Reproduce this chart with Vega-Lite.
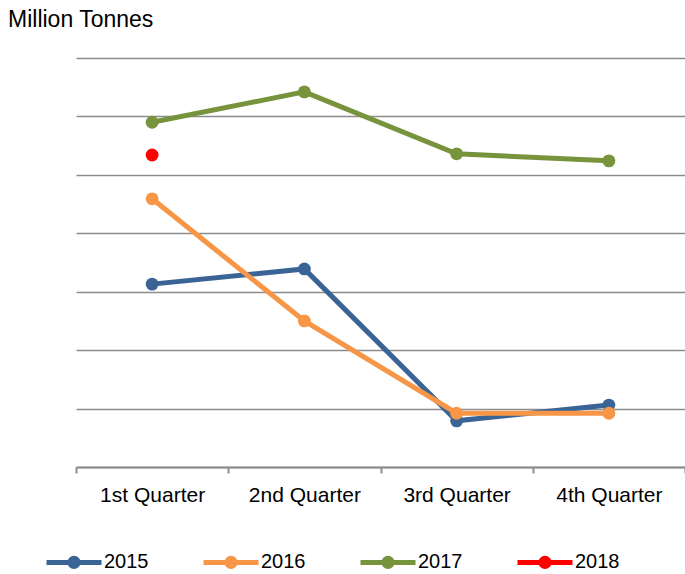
{
  "$schema": "https://vega.github.io/schema/vega-lite/v6.json",
  "autosize": "none",
  "width": 609,
  "height": 409,
  "padding": {"left": 76, "top": 58, "right": 0, "bottom": 107},
  "background": "white",
  "config": {
    "font": "Liberation Sans",
    "view": {"stroke": null}
  },
  "title": {
    "text": "Million Tonnes",
    "anchor": "start",
    "frame": "group",
    "dx": -68,
    "offset": 26,
    "fontSize": 23,
    "fontWeight": "normal",
    "color": "#000000"
  },
  "data": {
    "values": [
      {"quarter": "1st Quarter", "year": "2015", "value": 3.13},
      {"quarter": "2nd Quarter", "year": "2015", "value": 3.39},
      {"quarter": "3rd Quarter", "year": "2015", "value": 0.79},
      {"quarter": "4th Quarter", "year": "2015", "value": 1.06},
      {"quarter": "1st Quarter", "year": "2016", "value": 4.59},
      {"quarter": "2nd Quarter", "year": "2016", "value": 2.50},
      {"quarter": "3rd Quarter", "year": "2016", "value": 0.92},
      {"quarter": "4th Quarter", "year": "2016", "value": 0.92},
      {"quarter": "1st Quarter", "year": "2017", "value": 5.90},
      {"quarter": "2nd Quarter", "year": "2017", "value": 6.42},
      {"quarter": "3rd Quarter", "year": "2017", "value": 5.36},
      {"quarter": "4th Quarter", "year": "2017", "value": 5.24},
      {"quarter": "1st Quarter", "year": "2018", "value": 5.34}
    ]
  },
  "mark": {
    "type": "line",
    "strokeWidth": 5,
    "point": {"filled": true, "size": 165, "opacity": 1}
  },
  "encoding": {
    "x": {
      "field": "quarter",
      "type": "nominal",
      "sort": null,
      "scale": {"paddingInner": 0, "paddingOuter": 0},
      "axis": {
        "title": null,
        "labelAngle": 0,
        "labelFontSize": 21,
        "labelColor": "#000000",
        "labelPadding": 11,
        "domainColor": "#8c8c8c",
        "domainWidth": 2,
        "tickColor": "#8c8c8c",
        "tickWidth": 2,
        "tickSize": 6,
        "tickBand": "extent",
        "grid": false
      }
    },
    "y": {
      "field": "value",
      "type": "quantitative",
      "scale": {"domain": [0, 7], "nice": false, "zero": true},
      "axis": {
        "title": null,
        "labels": false,
        "ticks": false,
        "domain": false,
        "tickCount": 7,
        "grid": true,
        "gridColor": "#8c8c8c",
        "gridWidth": 1.5
      }
    },
    "color": {
      "field": "year",
      "type": "nominal",
      "scale": {
        "domain": ["2015", "2016", "2017", "2018"],
        "range": ["#3a6496", "#f79646", "#77933c", "#ff0000"]
      },
      "legend": {
        "title": null,
        "orient": "none",
        "direction": "horizontal",
        "legendX": -32,
        "legendY": 474,
        "symbolType": "M-1,0H1M-0.15,0A0.15,0.15,0,1,1,0.15,0A0.15,0.15,0,1,1,-0.15,0",
        "symbolSize": 3025,
        "symbolStrokeWidth": 5,
        "symbolOpacity": 1,
        "labelFontSize": 20,
        "labelColor": "#000000",
        "labelOffset": 0,
        "columnPadding": 44
      }
    }
  }
}
